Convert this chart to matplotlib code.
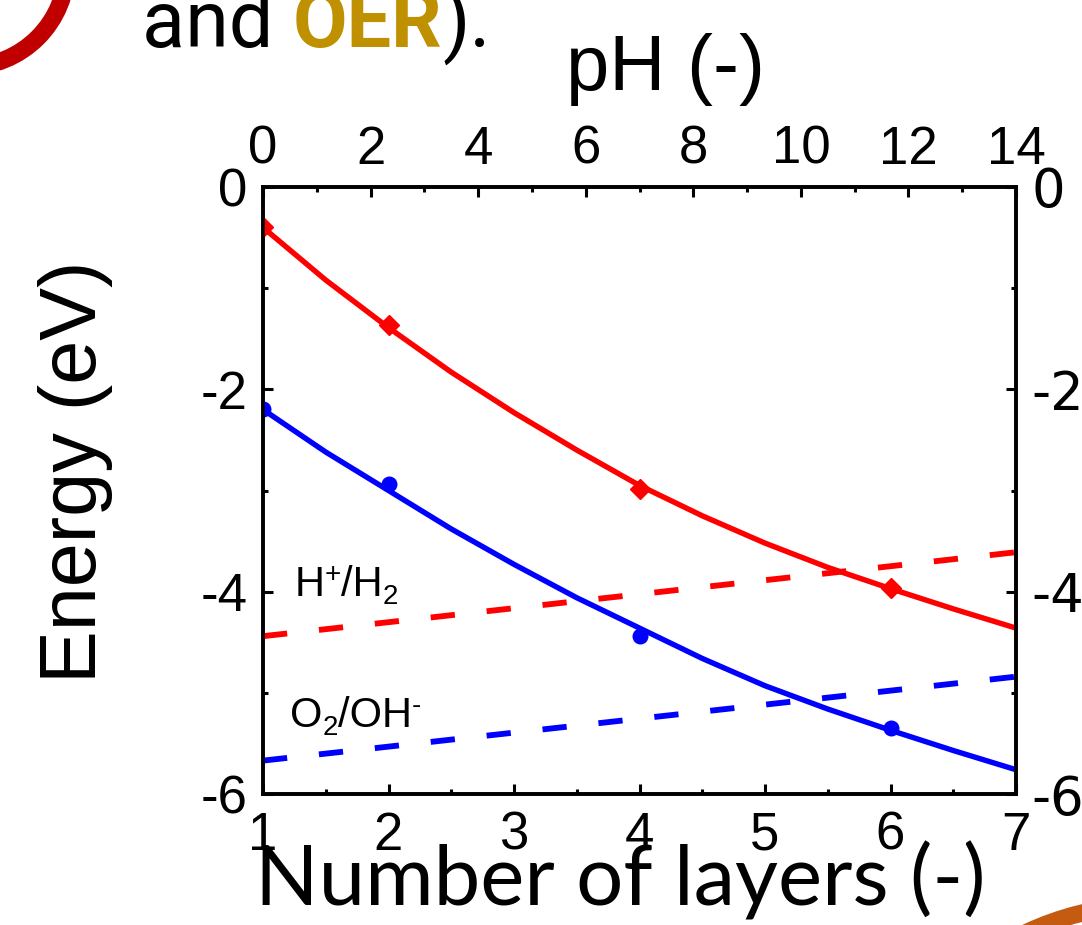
import matplotlib
matplotlib.use("Agg")
import matplotlib.pyplot as plt
from matplotlib.patches import Circle

# ---------------- data ----------------
layers_pts = [1, 2, 4, 6]
cb_pts = [-0.40, -1.36, -2.99, -3.96]      # red diamonds
vb_pts = [-2.19, -2.94, -4.44, -5.35]      # blue circles

fit_x = [1, 1.5, 2, 2.5, 3, 3.5, 4, 4.5, 5, 5.5, 6, 6.5, 7]
cb_fit = [-0.40, -0.92, -1.39, -1.83, -2.23, -2.60, -2.95, -3.25, -3.52, -3.76, -3.97, -4.17, -4.36]
vb_fit = [-2.20, -2.62, -3.00, -3.38, -3.73, -4.06, -4.36, -4.66, -4.93, -5.16, -5.37, -5.57, -5.76]

ph = [0, 14]
h_level = [-4.44, -3.61]     # H+/H2
o_level = [-5.67, -4.84]     # O2/OH-

x_ticks = [1, 2, 3, 4, 5, 6, 7]
y_ticks = [0, -2, -4, -6]
ph_ticks = [0, 2, 4, 6, 8, 10, 12, 14]

RED = "#ff0000"
BLUE = "#0000ff"

W, H = 1082, 925
fig = plt.figure(figsize=(W / 100, H / 100), dpi=100)

L, R, T, B = 263, 1016, 187, 794
ax = fig.add_axes([L / W, 1 - B / H, (R - L) / W, (B - T) / H])
axt = ax.twiny()

tick_font = "Liberation Sans"
fs_tick = 38

ax.plot(fit_x, cb_fit, color=RED, lw=3.9, zorder=3)
ax.plot(fit_x, vb_fit, color=BLUE, lw=3.9, zorder=3)
ax.plot(layers_pts, cb_pts, ls="none", marker="D", ms=10, color=RED, zorder=4)
ax.plot(layers_pts, vb_pts, ls="none", marker="o", ms=10.5, color=BLUE, zorder=4)

lw_d = 4.2
axt.plot(ph, h_level, color=RED, lw=lw_d, dashes=(17.5 / lw_d, 23 / lw_d))
axt.plot(ph, o_level, color=BLUE, lw=lw_d, dashes=(17.5 / lw_d, 23 / lw_d))

ax.set_xlim(1, 7)
ax.set_ylim(-6, 0)
axt.set_xlim(0, 14)

ax.set_xticks(x_ticks)
ax.set_xticks([1.5, 2.5, 3.5, 4.5, 5.5, 6.5], minor=True)
ax.set_yticks(y_ticks)
ax.set_yticks([-1, -3, -5], minor=True)
ax.set_yticklabels([str(v) for v in y_ticks])
axt.set_xticks(ph_ticks)
axt.set_xticks([1, 3, 5, 7, 9, 11, 13], minor=True)

for a in (ax, axt):
    for s in a.spines.values():
        s.set_linewidth(2.6)
    a.tick_params(which="major", direction="in", length=7.5, width=2.2,
                  labelsize=fs_tick)
    a.tick_params(which="minor", direction="in", length=3.8, width=2.2)
    for lab in a.get_xticklabels() + a.get_yticklabels():
        lab.set_fontfamily(tick_font)

ax.tick_params(axis="y", which="both", left=True, right=True,
               labelleft=True, labelright=True, pad=11)
ax.tick_params(axis="x", which="both", bottom=True, top=False, pad=12)
axt.tick_params(axis="x", which="both", top=True, bottom=False, pad=9)

fig.canvas.draw()
rend = fig.canvas.get_renderer()


def compose(x0, y0, parts, color="black", family=tick_font):
    """Write text pieces one after another; x0, y0 in pixels from top-left."""
    x = x0
    for txt, size, dy, weight, col in parts:
        t = fig.text(x / W, 1 - (y0 - dy) / H, txt, fontsize=size,
                     family=family, weight=weight, color=col or color,
                     ha="left", va="baseline")
        bb = t.get_window_extent(rend)
        x += bb.width


# inner labels
compose(295, 596, [("H", 30, 0, "normal", None), ("+", 20, 14, "normal", None),
                   ("/H", 30, 0, "normal", None), ("2", 20, -8, "normal", None)])
compose(290, 727, [("O", 30, 0, "normal", None), ("2", 20, -8, "normal", None),
                   ("/OH", 30, 0, "normal", None), ("-", 20, 14, "normal", None)])

# axis titles
fig.text(665 / W, 1 - 90 / H, "pH (-)", fontsize=56, family="Liberation Sans",
         ha="center", va="baseline")
fig.text(76 / W, 1 - 472 / H, "Energy (eV)", fontsize=57, family="Liberation Sans",
         ha="center", va="center", rotation=90)
fig.text(255 / W, 1 - 905 / H, "Number of layers (-)", fontsize=60, family="Lato",
         ha="left", va="baseline")

# slide title fragment
fs_title = 57
compose(142, 47, [("and ", fs_title, 0, "normal", "black"),
                  ("OER", fs_title, 0, "bold", "#bf9000"),
                  (").", fs_title, 0, "normal", "black")], family="Roboto")

# decorative arcs
fig.patches.append(Circle((-33, H + 33), 100, transform=None, fill=False,
                          ec="#c00000", lw=12.5))
fig.patches.append(Circle((1150, H - 1196), 291, transform=None, fill=False,
                          ec="#c55a11", lw=12.5))

fig.savefig("out.png", dpi=100)
